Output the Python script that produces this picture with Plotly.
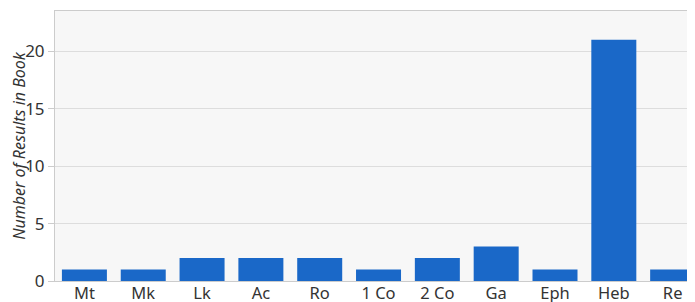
import plotly.graph_objects as go

books = ["Mt", "Mk", "Lk", "Ac", "Ro", "1 Co", "2 Co", "Ga", "Eph", "Heb", "Re"]
counts = [1, 1, 2, 2, 2, 1, 2, 3, 1, 21, 1]
y_ticks = [0, 5, 10, 15, 20]

fig = go.Figure(
    go.Bar(x=books, y=counts, marker=dict(color="#1a68c8", line=dict(width=0)))
)

# page body has an 8px margin, so the figure is sized to fit the remaining window
fig.update_layout(
    width=687,
    height=294,
    margin=dict(l=47, r=0, t=3, b=21),
    paper_bgcolor="white",
    plot_bgcolor="#f7f7f7",
    bargap=0.235,
    font=dict(family="Noto Sans, Open Sans, sans-serif", size=17, color="#333"),
    showlegend=False,
)
fig.update_xaxes(
    range=[-0.5, 10.38],
    showgrid=False,
    showline=True,
    linecolor="#cccccc",
    mirror=True,
    ticks="",
    automargin=False,
    ticklabelstandoff=-3,
    tickfont=dict(size=16.5, color="#333"),
)
fig.update_yaxes(
    range=[0, 23.5],
    tickvals=y_ticks,
    gridcolor="#dddddd",
    showline=True,
    linecolor="#cccccc",
    mirror=True,
    zeroline=False,
    automargin=False,
    ticks="outside",
    ticklen=6,
    tickcolor="#cccccc",
    tickfont=dict(size=17, color="#333"),
    title=dict(
        text="<i>Number of Results in Book</i>",
        font=dict(size=16, color="#333"),
        standoff=4,
    ),
)

fig.write_html("out.html")
